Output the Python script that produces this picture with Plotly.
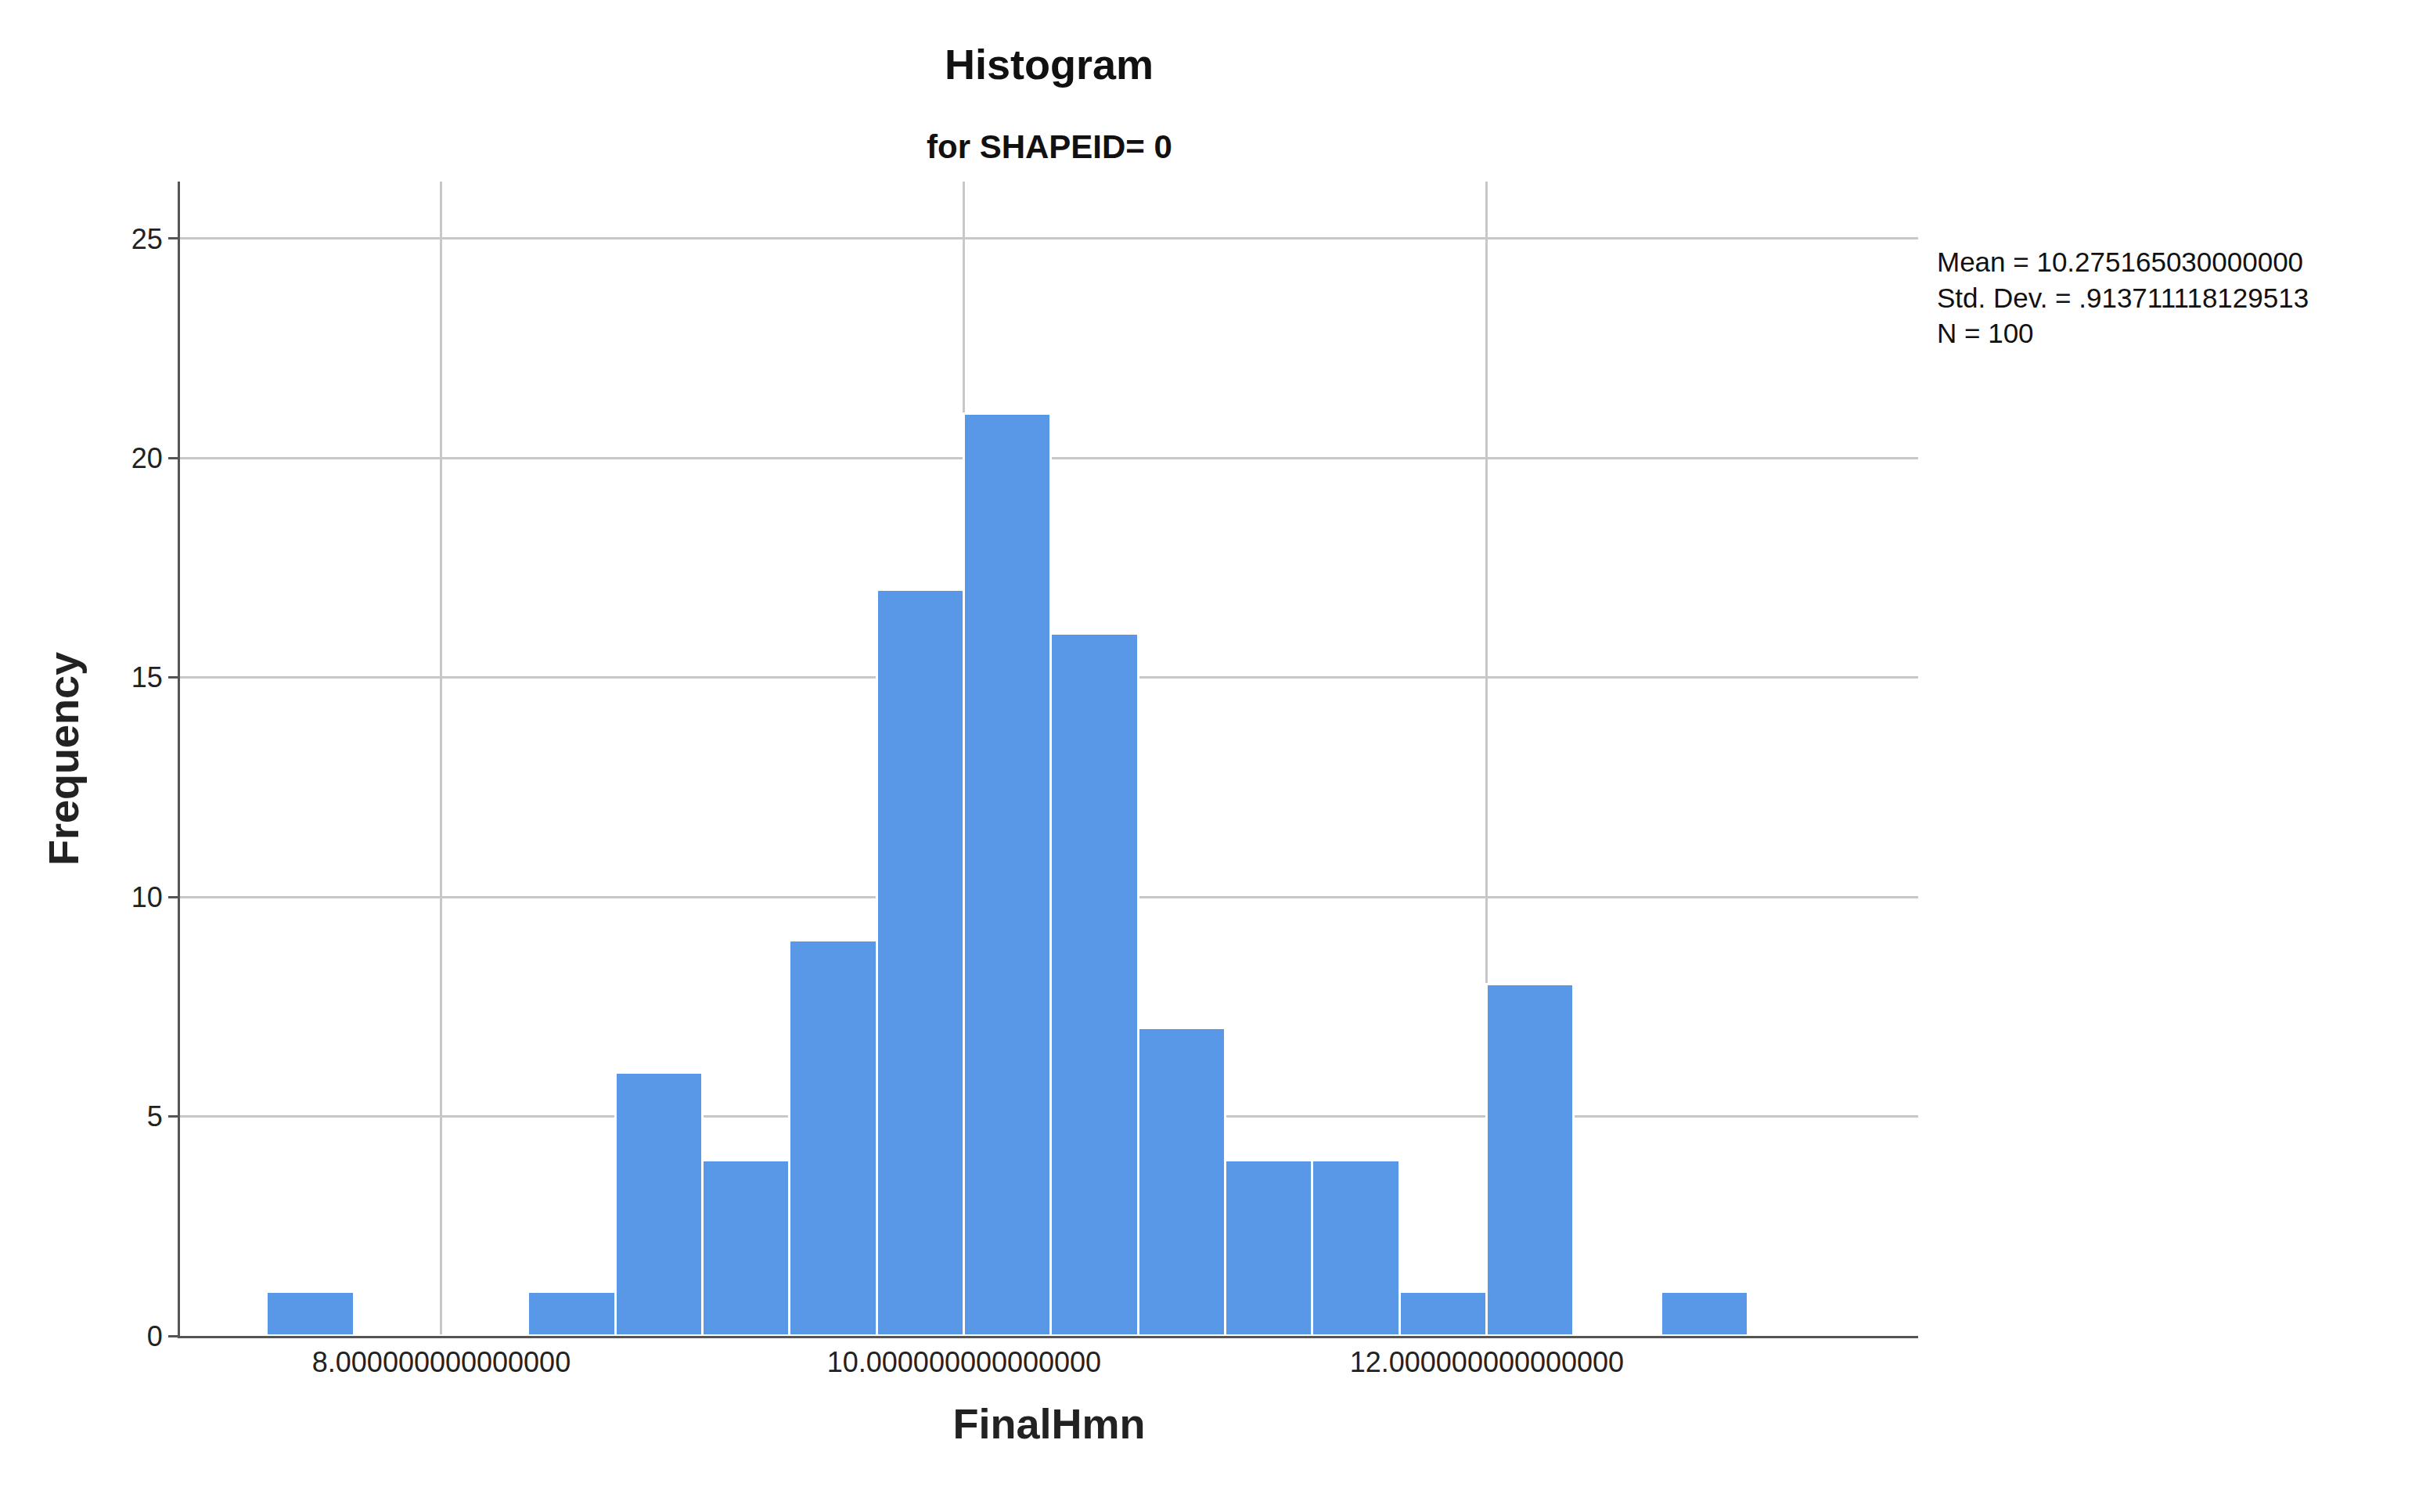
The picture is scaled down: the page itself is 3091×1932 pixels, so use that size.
import plotly.graph_objects as go

bin_starts = [7.3333, 7.6667, 8.0, 8.3333, 8.6667, 9.0, 9.3333, 9.6667, 10.0,
              10.3333, 10.6667, 11.0, 11.3333, 11.6667, 12.0, 12.3333, 12.6667]
counts = [1, 0, 0, 1, 6, 4, 9, 17, 21, 16, 7, 4, 4, 1, 8, 0, 1]
bin_width = 1 / 3
x_tick_vals = [8, 10, 12]
x_tick_text = ["8.000000000000000", "10.000000000000000", "12.000000000000000"]
y_tick_vals = [0, 5, 10, 15, 20, 25]
stats_text = ["Mean = 10.275165030000000", "Std. Dev. = .913711118129513", "N = 100"]

centers = [s + bin_width / 2 for s in bin_starts]

fig = go.Figure(go.Bar(
    x=centers, y=counts, width=bin_width,
    marker=dict(color="#5898e6", line=dict(color="white", width=3)),
    showlegend=False,
))

fig.update_layout(
    width=3091, height=1932,
    paper_bgcolor="white", plot_bgcolor="white",
    margin=dict(l=222, r=648, t=224, b=233),
    font=dict(family="Liberation Sans, Arial", color="#222"),
    bargap=0,
)
# title and subtitle as annotations so nothing is clipped at the top
fig.add_annotation(text="<b>Histogram</b>", xref="paper", yref="paper",
                   x=0.5, y=1.0, yshift=150, xanchor="center", yanchor="middle",
                   showarrow=False, font=dict(size=54, color="#111"))
fig.add_annotation(text="<b>for SHAPEID= 0</b>", xref="paper", yref="paper",
                   x=0.5, y=1.0, yshift=45, xanchor="center", yanchor="middle",
                   showarrow=False, font=dict(size=42, color="#111"))
fig.update_xaxes(
    range=[7.0, 13.65], tickvals=x_tick_vals, ticktext=x_tick_text,
    showgrid=True, gridcolor="#c8c8c8", gridwidth=3,
    showline=True, linecolor="#555", linewidth=3,
    ticks="", tickfont=dict(size=36),
    title=dict(text="<b>FinalHmn</b>", font=dict(size=54), standoff=40),
    zeroline=False,
)
fig.update_yaxes(
    range=[0, 26.3], tickvals=y_tick_vals,
    showgrid=True, gridcolor="#c8c8c8", gridwidth=3,
    showline=True, linecolor="#555", linewidth=3,
    ticks="outside", ticklen=12, tickcolor="#555", tickwidth=3, tickfont=dict(size=36),
    title=dict(text="<b>Frequency</b>", font=dict(size=54), standoff=50),
    zeroline=False,
)
fig.add_annotation(
    text="<br>".join(stats_text), xref="paper", yref="paper",
    x=1.01, y=0.945, xanchor="left", yanchor="top", align="left",
    showarrow=False, font=dict(size=35, color="#111"),
)

fig.write_html("out.html")
